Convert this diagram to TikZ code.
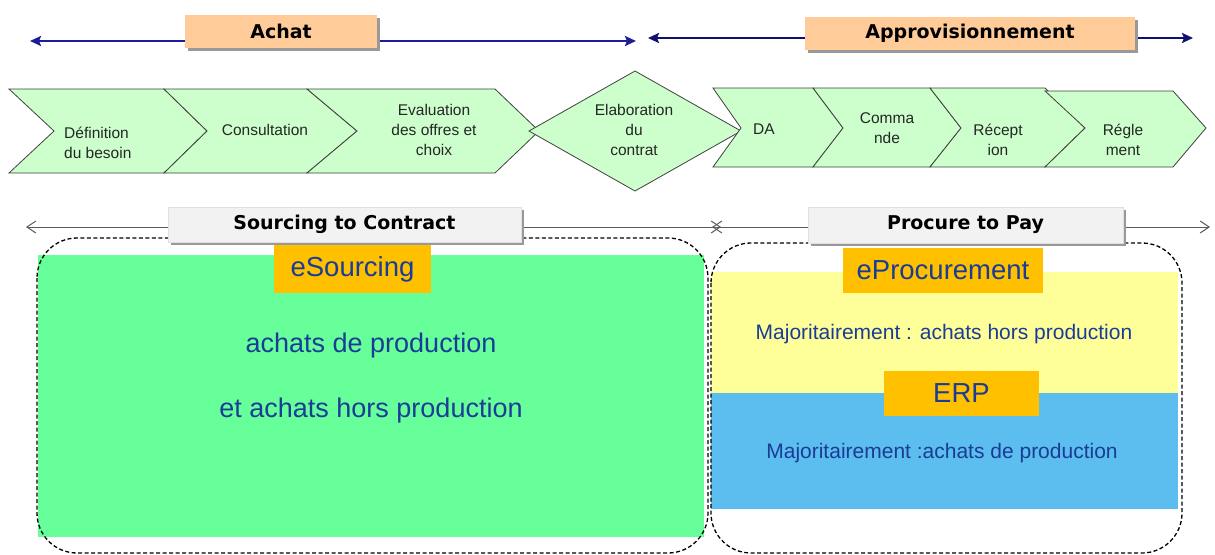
\documentclass[tikz,border=0pt]{standalone}
\usepackage{fontspec}
\setmainfont{Liberation Sans}
\newfontfamily\hdfont{DejaVu Sans}
\usetikzlibrary{arrows.meta,shadows}
\definecolor{chevfill}{HTML}{CCFFCC}
\definecolor{peach}{HTML}{FFCC99}
\definecolor{mint}{HTML}{66FF99}
\definecolor{paleyellow}{HTML}{FFFF99}
\definecolor{skyblue}{HTML}{5BBEEE}
\definecolor{amber}{HTML}{FFC000}
\definecolor{txtblue}{HTML}{1A3C96}
\definecolor{navyA}{HTML}{1C1C96}
\definecolor{navyB}{HTML}{10106E}
\definecolor{hdrgray}{HTML}{F2F2F2}
\definecolor{linegray}{HTML}{5A5A5A}
\begin{document}
\begin{tikzpicture}[x=1pt,y=-1pt,
 chev/.style={fill=chevfill,draw=black!75,line width=0.8pt,line join=miter},
 ctext/.style={font=\fontsize{15.5}{20}\selectfont,align=center,inner sep=0pt,text=black!85},
 hdrtext/.style={font=\hdfont\bfseries\fontsize{19}{22}\selectfont},
 boxshadow/.style={drop shadow={shadow xshift=3pt,shadow yshift=-3pt,fill=black!40,opacity=1}},
 topbox/.style={hdrtext,fill=peach,inner sep=0pt,boxshadow},
 midbox/.style={hdrtext,fill=hdrgray,draw=black!12,inner sep=0pt,boxshadow},
 topline/.style={line width=2.6pt,{Stealth[length=11pt,width=10pt,inset=2pt]}-{Stealth[length=11pt,width=10pt,inset=2pt]}},
 midline/.style={draw=linegray,line width=1pt,{Straight Barb[length=9pt,width=12pt]}-{Straight Barb[length=9pt,width=12pt]}},
 sysbox/.style={fill=amber,inner sep=0pt,text=txtblue,font=\fontsize{27.5}{30}\selectfont},
 btext/.style={text=txtblue,inner sep=0pt},
 zone/.style={draw=black,line width=1.3pt,rounded corners=40pt,dash pattern=on 4pt off 2.5pt}
]
\useasboundingbox (0,0) rectangle (1215,554);
% top arrows
\coordinate (achL) at (30,41); \coordinate (achR) at (636,41);
\draw[topline,navyA] (achL) -- (achR);
\node[topbox,minimum width=192pt,minimum height=33pt] (achat) at (281,31.5) {Achat};
\coordinate (apL) at (648,38); \coordinate (apR) at (1193,38);
\draw[topline,navyB] (apL) -- (apR);
\node[topbox,minimum width=330pt,minimum height=33pt] (appro) at (970,33.5) {Approvisionnement};
% chevrons
\filldraw[chev] (9,89) -- (164,89) -- (207,131) -- (164,173) -- (9,173) -- (54,131) -- cycle;
\filldraw[chev] (164,89) -- (307,89) -- (357,131) -- (307,173) -- (164,173) -- (207,131) -- cycle;
\filldraw[chev] (307,89) -- (495,89) -- (539,131) -- (495,173) -- (307,173) -- (357,131) -- cycle;
\filldraw[chev] (529,131) -- (635,71) -- (741,131) -- (635,191) -- cycle;
\filldraw[chev] (713,88) -- (813,88) -- (843,128) -- (813,167) -- (713,167) -- (741,128) -- cycle;
\filldraw[chev] (813,88) -- (930,88) -- (961,128) -- (930,167) -- (813,167) -- (843,128) -- cycle;
\filldraw[chev] (930,88) -- (1045,88) -- (1085,128) -- (1045,167) -- (930,167) -- (961,128) -- cycle;
\filldraw[chev] (1045,91) -- (1173,91) -- (1206,128) -- (1173,167) -- (1045,167) -- (1085,128) -- cycle;
\node[ctext,align=left,anchor=west] (t1) at (64,143) {Définition\\du besoin};
\node[ctext] (t2) at (265,130) {Consultation};
\node[ctext] (t3) at (434,130) {Evaluation\\des offres et\\choix};
\node[ctext] (t4) at (634,130) {Elaboration\\du\\contrat};
\node[ctext] (t5) at (764,129) {DA};
\node[ctext] (t6) at (887,128) {Comma\\nde};
\node[ctext] (t7) at (998,140) {Récept\\ion};
\node[ctext] (t8) at (1123,140) {Régle\\ment};
% bottom arrows
\coordinate (scL) at (26,227); \coordinate (scR) at (721,227);
\draw[midline] (scL) -- (scR);
\coordinate (ppL) at (712,227); \coordinate (ppR) at (1210,227);
\draw[midline] (ppL) -- (ppR);
% zones
\fill[mint] (38,255) rectangle (704,537);
\draw[zone] (37,238) rectangle (708,553);
\fill[paleyellow] (711,272) rectangle (1178,393);
\fill[skyblue] (711,393) rectangle (1178,509);
\draw[zone] (711,243) rectangle (1182,553);
% headers
\node[midbox,minimum width=353pt,minimum height=35pt] (s2c) at (344.5,224.5) {Sourcing to Contract};
\node[midbox,minimum width=315pt,minimum height=36pt] (p2p) at (965.5,225) {Procure to Pay};
% systems
\node[sysbox,minimum width=157pt,minimum height=48pt] (esrc) at (352.5,269) {eSourcing};
\node[sysbox,minimum width=200pt,minimum height=45pt] (eproc) at (943,270.5) {eProcurement};
\node[sysbox,minimum width=155pt,minimum height=45pt] (erp) at (961.5,393.5) {ERP};
% texts
\node[btext,font=\fontsize{27}{30}\selectfont] (l1) at (371,346) {achats de production};
\node[btext,font=\fontsize{27}{30}\selectfont] (l2) at (371,411) {et achats hors production};
\node[btext,font=\fontsize{21}{24}\selectfont] (r1) at (944,334) {Majoritairement : achats hors production};
\node[btext,font=\fontsize{21}{24}\selectfont] (r2) at (942,453) {Majoritairement :achats de production};
\end{tikzpicture}
\end{document}
